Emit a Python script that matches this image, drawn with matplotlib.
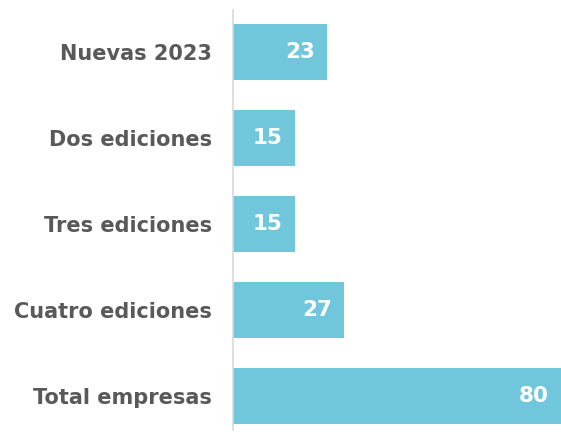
import matplotlib

matplotlib.use("Agg")
import matplotlib.pyplot as plt

categories = ["Nuevas 2023", "Dos ediciones", "Tres ediciones", "Cuatro ediciones", "Total empresas"]
values = [23, 15, 15, 27, 80]

bar_color = "#70c7db"
text_color = "#595959"

fig = plt.figure(figsize=(5.61, 4.32), dpi=100)
ax = fig.add_axes([233 / 561, 2 / 432, 1 - 233 / 561, 420 / 432])

ypos = list(range(len(categories)))
ax.barh(ypos, values, height=0.65, color=bar_color)
ax.set_xlim(0, 80)
ax.set_ylim(len(categories) - 1 + 0.395, -0.488)

# value labels inside the bar ends
for y, v in zip(ypos, values):
    ax.text(v - 2.9, y, str(v), ha="right", va="center", color="white",
            fontsize=15.5, fontweight="bold")

ax.set_yticks(ypos)
ax.set_yticklabels(categories, fontsize=15, fontweight="bold", color=text_color)
ax.tick_params(axis="y", length=0, pad=15)
ax.set_xticks([])
for side in ["top", "right", "bottom"]:
    ax.spines[side].set_visible(False)
ax.spines["left"].set_color("#d9d9d9")
ax.spines["left"].set_linewidth(1.2)

fig.savefig("out.png", dpi=100)
